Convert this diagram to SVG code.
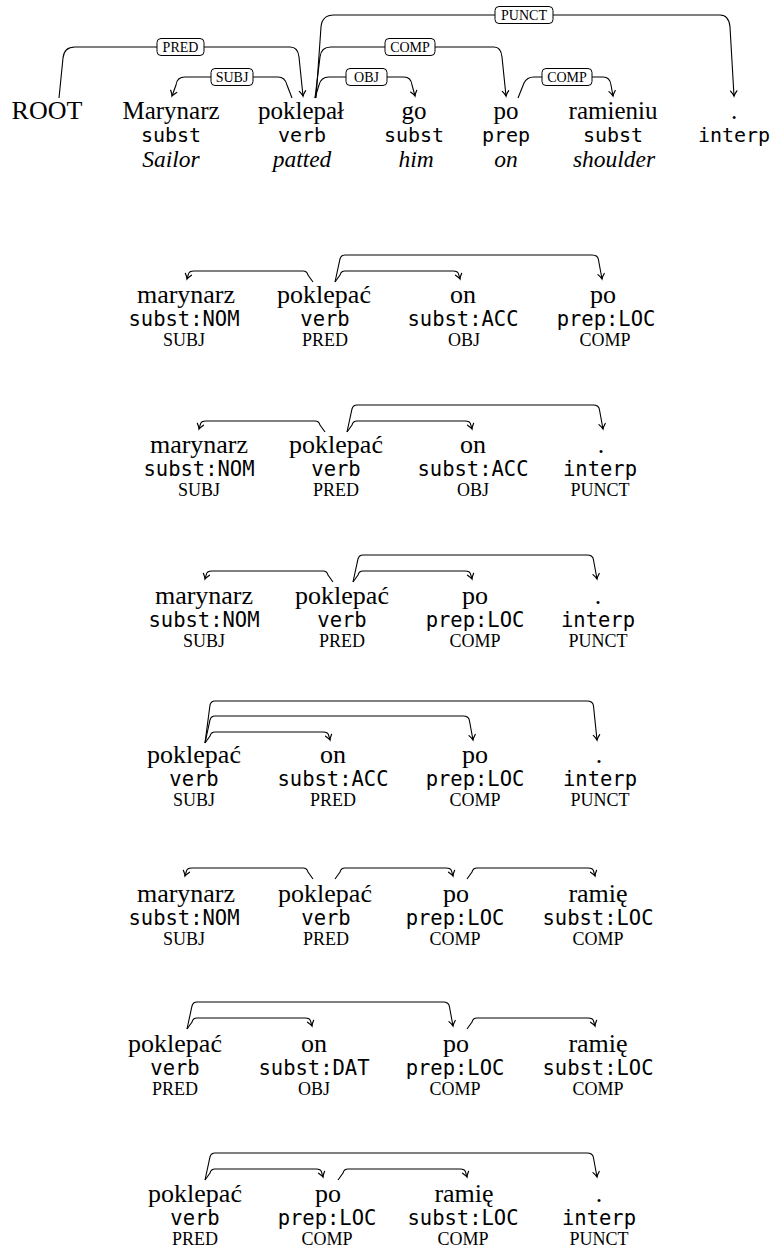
<svg xmlns="http://www.w3.org/2000/svg" width="773" height="1252" viewBox="0 0 773 1252">
<style>
.w{font-family:"Liberation Serif",serif;font-size:26px;text-anchor:middle;fill:#000}
.wt{font-family:"Liberation Serif",serif;font-size:25px;text-anchor:middle;fill:#000}
.t{font-family:"DejaVu Sans Mono",monospace;font-size:20.5px;text-anchor:middle;fill:#000}
.tt{font-family:"DejaVu Sans Mono",monospace;font-size:20px;text-anchor:middle;fill:#000}
.i{font-family:"Liberation Serif",serif;font-style:italic;font-size:23.5px;text-anchor:middle;fill:#000}
.l{font-family:"Liberation Serif",serif;font-size:18px;text-anchor:middle;fill:#000}
.b{font-family:"Liberation Serif",serif;font-size:14px;text-anchor:middle;fill:#000}
.a{fill:none;stroke:#000;stroke-width:1.1;marker-end:url(#arr)}
.box{fill:#fff;stroke:#000;stroke-width:1}
</style>
<defs>
<marker id="arr" viewBox="-6 -4 7 8" markerWidth="7" markerHeight="8" refX="0" refY="0" orient="auto" markerUnits="userSpaceOnUse" overflow="visible">
<path d="M-5,-3.2 Q-1.8,-0.6 0,0 Q-1.8,0.6 -5,3.2" fill="none" stroke="#000" stroke-width="1.2" stroke-linecap="round"/>
</marker>
</defs>

<!-- Top sentence -->
<g id="connectors-top">
<path class="a" d="M59,98 L63,58 Q64,47 75,47 H290 Q298,47 299,57 L303,96"/>
<path class="a" d="M292,98 L287,85 Q285,77 278,77 H185 Q177,77 176,85 L172,96"/>
<path class="a" d="M315,98 L319,85 Q321,77 329,77 H404 Q411,77 412,85 L415,96"/>
<path class="a" d="M315,98 L320,57 Q321,47 331,47 H494 Q501,47 502,57 L506,96"/>
<path class="a" d="M316,98 L321,27 Q322,15 334,15 H720 Q729,15 730,27 L734,96"/>
<path class="a" d="M518,98 L524,83 Q527,77 534,77 H603 Q610,77 611,85 L613,96"/>
<rect class="box" x="157" y="38.5" width="47" height="17" rx="4"/><text class="b" x="180.5" y="52">PRED</text>
<rect class="box" x="211" y="68.5" width="42" height="17" rx="4"/><text class="b" x="232" y="82">SUBJ</text>
<rect class="box" x="346" y="68.5" width="41" height="17" rx="4"/><text class="b" x="366.5" y="82">OBJ</text>
<rect class="box" x="385" y="38.5" width="50" height="17" rx="4"/><text class="b" x="410" y="52">COMP</text>
<rect class="box" x="495" y="6.5" width="58" height="17" rx="4"/><text class="b" x="524" y="20">PUNCT</text>
<rect class="box" x="542" y="68.5" width="50" height="17" rx="4"/><text class="b" x="567" y="82">COMP</text>
</g>
<g id="t0"><text class="w" x="47" y="119">ROOT</text></g>
<g id="t1"><text class="wt" x="171" y="119">Marynarz</text><text class="tt" x="171" y="142">subst</text><text class="i" x="171" y="167">Sailor</text></g>
<g id="t2"><text class="wt" x="301" y="119">poklepał</text><text class="tt" x="302" y="142">verb</text><text class="i" x="302" y="167">patted</text></g>
<g id="t3"><text class="wt" x="414" y="119">go</text><text class="tt" x="414" y="142">subst</text><text class="i" x="416" y="167">him</text></g>
<g id="t4"><text class="wt" x="506" y="119">po</text><text class="tt" x="506" y="142">prep</text><text class="i" x="506" y="167">on</text></g>
<g id="t5"><text class="wt" x="613" y="119">ramieniu</text><text class="tt" x="613" y="142">subst</text><text class="i" x="614" y="167">shoulder</text></g>
<g id="t6"><text class="wt" x="734" y="119">.</text><text class="tt" x="734" y="142">interp</text></g>

<!-- Lower fragments connectors -->
<g id="connectors">
<path class="a" d="M313,282 L308,275 Q307,271 303,271 H194 Q189,271 188.5,274 L187,279"/>
<path class="a" d="M335,282 L340,275 Q341,271 345,271 H453 Q458,271 458.5,274 L460,279"/>
<path class="a" d="M335,282 L340,259 Q341,255 345,255 H592 Q598,255 598.5,260 L602,279"/>

<path class="a" d="M325,432 L320,425 Q319,421 315,421 H206 Q201,421 200.5,424 L199,429"/>
<path class="a" d="M347,432 L352,425 Q353,421 357,421 H465 Q470,421 470.5,424 L472,429"/>
<path class="a" d="M347,432 L352,409 Q353,405 357,405 H593 Q599,405 599.5,410 L603,429"/>

<path class="a" d="M333,582 L328,575 Q327,571 323,571 H212 Q207,571 206.5,574 L205,579"/>
<path class="a" d="M353,582 L358,575 Q359,571 363,571 H465 Q470,571 470.5,574 L472,579"/>
<path class="a" d="M353,582 L358,559 Q359,555 363,555 H587 Q593,555 593.5,560 L597,579"/>

<path class="a" d="M205,743 L210,736 Q211,732 215,732 H323 Q328,732 328.5,735 L330,740"/>
<path class="a" d="M205,743 L210,720 Q211,716 215,716 H463 Q469,716 469.5,721 L473,740"/>
<path class="a" d="M205,743 L210,705 Q211,701 215,701 H587 Q593,701 593.5,706 L597,740"/>

<path class="a" d="M313,879 L308,872 Q307,868 303,868 H192 Q187,868 186.5,871 L185,876"/>
<path class="a" d="M335,879 L340,872 Q341,868 345,868 H446 Q451,868 451.5,871 L453,876"/>
<path class="a" d="M467,879 L472,872 Q473,868 477,868 H588 Q593,868 593.5,871 L595,876"/>

<path class="a" d="M187,1029 L192,1022 Q193,1018 197,1018 H305 Q310,1018 310.5,1021 L312,1026"/>
<path class="a" d="M187,1029 L192,1006 Q193,1002 197,1002 H443 Q449,1002 449.5,1007 L453,1026"/>
<path class="a" d="M467,1029 L472,1022 Q473,1018 477,1018 H588 Q593,1018 593.5,1021 L595,1026"/>

<path class="a" d="M205,1180 L210,1173 Q211,1169 215,1169 H316 Q321,1169 321.5,1172 L323,1177"/>
<path class="a" d="M205,1180 L210,1157 Q211,1153 215,1153 H587 Q593,1153 593.5,1158 L597,1177"/>
<path class="a" d="M338,1180 L343,1173 Q344,1169 348,1169 H460 Q465,1169 465.5,1172 L467,1177"/>
</g>

<!-- Fragment 1 -->
<g id="f1n1"><text class="w" x="186" y="303">marynarz</text><text class="t" x="184" y="326">subst:NOM</text><text class="l" x="184" y="346">SUBJ</text></g>
<g id="f1n2"><text class="w" x="324" y="303">poklepać</text><text class="t" x="325" y="326">verb</text><text class="l" x="325" y="346">PRED</text></g>
<g id="f1n3"><text class="w" x="463" y="303">on</text><text class="t" x="463" y="326">subst:ACC</text><text class="l" x="464" y="346">OBJ</text></g>
<g id="f1n4"><text class="w" x="603" y="303">po</text><text class="t" x="606" y="326">prep:LOC</text><text class="l" x="605" y="346">COMP</text></g>

<!-- Fragment 2 -->
<g id="f2n1"><text class="w" x="199" y="453">marynarz</text><text class="t" x="199" y="476">subst:NOM</text><text class="l" x="199" y="496">SUBJ</text></g>
<g id="f2n2"><text class="w" x="336" y="453">poklepać</text><text class="t" x="336" y="476">verb</text><text class="l" x="336" y="496">PRED</text></g>
<g id="f2n3"><text class="w" x="473" y="453">on</text><text class="t" x="473" y="476">subst:ACC</text><text class="l" x="473" y="496">OBJ</text></g>
<g id="f2n4"><text class="w" x="601" y="453">.</text><text class="t" x="600" y="476">interp</text><text class="l" x="600" y="496">PUNCT</text></g>

<!-- Fragment 3 -->
<g id="f3n1"><text class="w" x="204" y="604">marynarz</text><text class="t" x="204" y="627">subst:NOM</text><text class="l" x="204" y="647">SUBJ</text></g>
<g id="f3n2"><text class="w" x="342" y="604">poklepać</text><text class="t" x="342" y="627">verb</text><text class="l" x="342" y="647">PRED</text></g>
<g id="f3n3"><text class="w" x="475" y="604">po</text><text class="t" x="475" y="627">prep:LOC</text><text class="l" x="475" y="647">COMP</text></g>
<g id="f3n4"><text class="w" x="598" y="604">.</text><text class="t" x="598" y="627">interp</text><text class="l" x="598" y="647">PUNCT</text></g>

<!-- Fragment 4 -->
<g id="f4n1"><text class="w" x="194" y="763">poklepać</text><text class="t" x="194" y="786">verb</text><text class="l" x="194" y="806">SUBJ</text></g>
<g id="f4n2"><text class="w" x="333" y="763">on</text><text class="t" x="333" y="786">subst:ACC</text><text class="l" x="333" y="806">PRED</text></g>
<g id="f4n3"><text class="w" x="475" y="763">po</text><text class="t" x="475" y="786">prep:LOC</text><text class="l" x="475" y="806">COMP</text></g>
<g id="f4n4"><text class="w" x="599" y="763">.</text><text class="t" x="600" y="786">interp</text><text class="l" x="600" y="806">PUNCT</text></g>

<!-- Fragment 5 -->
<g id="f5n1"><text class="w" x="186" y="902">marynarz</text><text class="t" x="184" y="925">subst:NOM</text><text class="l" x="184" y="945">SUBJ</text></g>
<g id="f5n2"><text class="w" x="325" y="902">poklepać</text><text class="t" x="326" y="925">verb</text><text class="l" x="326" y="945">PRED</text></g>
<g id="f5n3"><text class="w" x="456" y="902">po</text><text class="t" x="455" y="925">prep:LOC</text><text class="l" x="455" y="945">COMP</text></g>
<g id="f5n4"><text class="w" x="598" y="902">ramię</text><text class="t" x="598" y="925">subst:LOC</text><text class="l" x="598" y="945">COMP</text></g>

<!-- Fragment 6 -->
<g id="f6n1"><text class="w" x="175" y="1052">poklepać</text><text class="t" x="175" y="1075">verb</text><text class="l" x="175" y="1095">PRED</text></g>
<g id="f6n2"><text class="w" x="314" y="1052">on</text><text class="t" x="314" y="1075">subst:DAT</text><text class="l" x="314" y="1095">OBJ</text></g>
<g id="f6n3"><text class="w" x="456" y="1052">po</text><text class="t" x="455" y="1075">prep:LOC</text><text class="l" x="455" y="1095">COMP</text></g>
<g id="f6n4"><text class="w" x="598" y="1052">ramię</text><text class="t" x="598" y="1075">subst:LOC</text><text class="l" x="598" y="1095">COMP</text></g>

<!-- Fragment 7 -->
<g id="f7n1"><text class="w" x="195" y="1202">poklepać</text><text class="t" x="195" y="1225">verb</text><text class="l" x="195" y="1245">PRED</text></g>
<g id="f7n2"><text class="w" x="328" y="1202">po</text><text class="t" x="327" y="1225">prep:LOC</text><text class="l" x="327" y="1245">COMP</text></g>
<g id="f7n3"><text class="w" x="464" y="1202">ramię</text><text class="t" x="463" y="1225">subst:LOC</text><text class="l" x="463" y="1245">COMP</text></g>
<g id="f7n4"><text class="w" x="599" y="1202">.</text><text class="t" x="599" y="1225">interp</text><text class="l" x="599" y="1245">PUNCT</text></g>
</svg>
